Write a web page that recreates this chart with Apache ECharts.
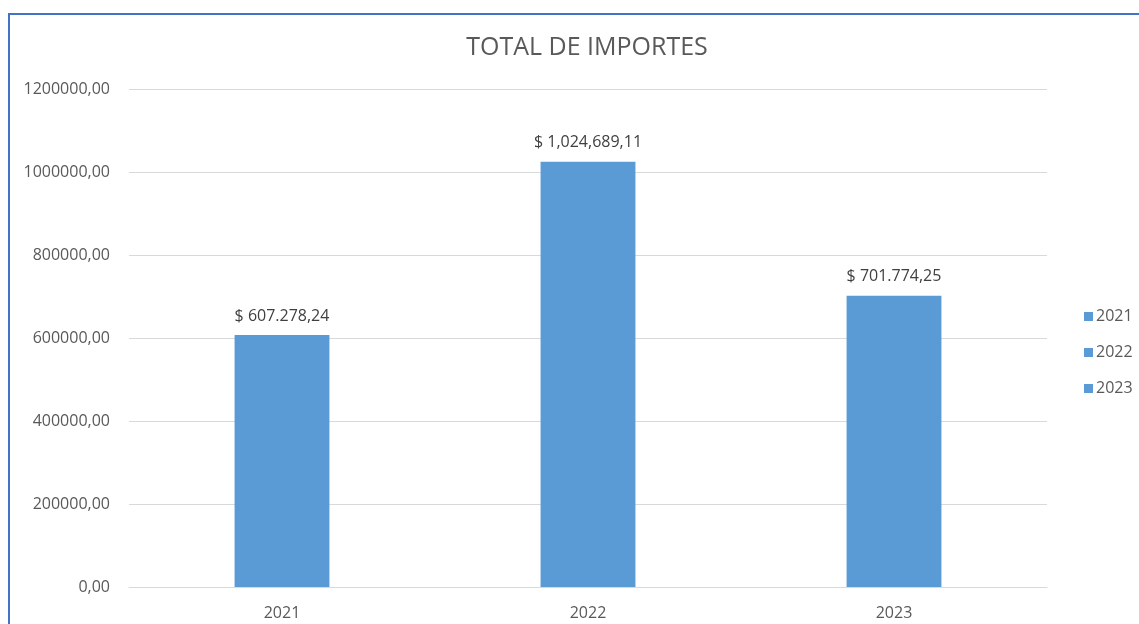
<!DOCTYPE html>
<html>
<head>
<meta charset="utf-8">
<script src="https://cdn.jsdelivr.net/npm/echarts@6/dist/echarts.min.js"></script>
<style>
  html, body { margin: 0; padding: 0; background: #fff; }
  #frame {
    position: absolute; left: 8px; top: 13px; width: 1140px; height: 620px;
    border-top: 2px solid #4472C4; border-left: 2px solid #4472C4;
  }
  #chart { position: absolute; left: 0; top: 0; width: 1139px; height: 624px; }
</style>
</head>
<body>
<div id="frame"></div>
<div id="chart"></div>
<script>
// datos del gráfico
const categories = ['2021', '2022', '2023'];
const values = [607278.24, 1024689.11, 701774.25];
const valueLabels = ['$ 607.278,24', '$ 1,024,689,11', '$ 701.774,25'];

let myChart = echarts.init(document.getElementById('chart'));
const font = '"Open Sans", "Noto Sans", sans-serif';

// una serie por año para que la leyenda muestre cada año
let series = categories.map(function (name, i) {
  return {
    name: name,
    type: 'bar',
    stack: 'total',
    barWidth: '31%',
    itemStyle: { color: '#5B9BD5' },
    label: {
      show: true,
      position: 'top',
      distance: 11,
      color: '#404040',
      fontSize: 16,
      fontFamily: font,
      formatter: function () { return valueLabels[i]; }
    },
    data: categories.map(function (c, j) { return j === i ? values[i] : '-'; })
  };
});

let option = {
  animation: false,
  title: {
    text: 'TOTAL DE IMPORTES',
    left: 582,
    textAlign: 'center',
    top: 30,
    textStyle: { fontSize: 25, fontWeight: 'normal', color: '#595959', fontFamily: font }
  },
  legend: {
    orient: 'vertical',
    left: 1079,
    top: 302,
    itemWidth: 9,
    itemHeight: 9,
    itemGap: 17,
    icon: 'rect',
    textStyle: { fontSize: 16, color: '#595959', fontFamily: font, padding: [0, 0, 0, -2], lineHeight: 19 },
    data: categories
  },
  grid: { left: 129, right: 92, top: 89, bottom: 37 },
  xAxis: {
    type: 'category',
    data: categories,
    axisTick: { show: false },
    axisLine: { lineStyle: { color: '#D9D9D9' } },
    axisLabel: { color: '#595959', fontSize: 16, fontFamily: font, margin: 18 }
  },
  yAxis: {
    type: 'value',
    min: 0,
    max: 1200000,
    interval: 200000,
    axisLine: { show: false },
    axisTick: { show: false },
    splitLine: { lineStyle: { color: '#D9D9D9' } },
    axisLabel: {
      color: '#595959', fontSize: 16, fontFamily: font, margin: 19,
      formatter: function (v) { return v + ',00'; }
    }
  },
  series: series
};

myChart.setOption(option);
</script>
</body>
</html>
